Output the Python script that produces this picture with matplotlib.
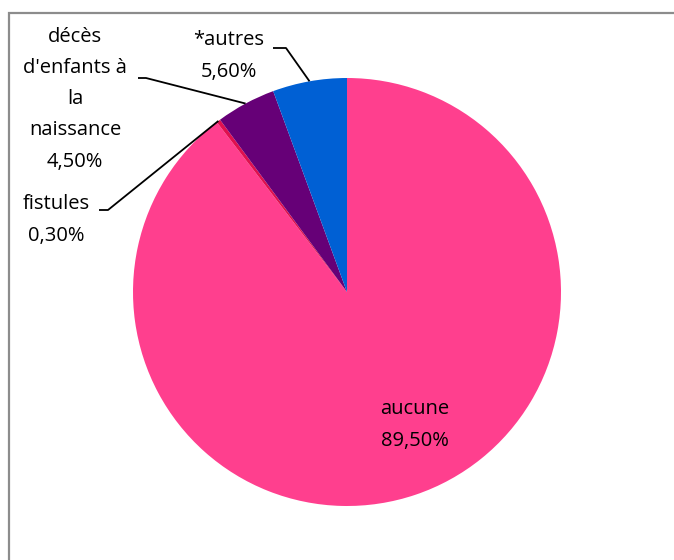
import numpy as np
import matplotlib.pyplot as plt
from matplotlib.patches import Rectangle

# data
categories = ['aucune', 'fistules', "décès\nd'enfants à\nla\nnaissance", '*autres']
values = [89.5, 0.3, 4.5, 5.6]
value_labels = ['89,50%', '0,30%', '4,50%', '5,60%']
colors = ['#FF3F8E', '#E0104F', '#660077', '#0060D4']

W, H = 674, 560
cx, cy, r = 347, 292, 214

plt.rcParams['font.family'] = ['Open Sans', 'DejaVu Sans']

fig = plt.figure(figsize=(W / 100, H / 100), dpi=100)
# chart frame (runs off the right and bottom of the image)
fig.patches.append(Rectangle((9 / W, -0.1), 1.2, 1 - 13 / H + 0.1,
                             transform=fig.transFigure, fill=False,
                             edgecolor='#8c8c8c', linewidth=1.6))

ax = fig.add_axes([(cx - r) / W, (H - cy - r) / H, 2 * r / W, 2 * r / H])
wedges, _ = ax.pie(values, colors=colors, startangle=90, counterclock=False,
                   radius=1.0, wedgeprops=dict(linewidth=0))
ax.set_xlim(-1, 1)
ax.set_ylim(-1, 1)
ax.set_aspect('equal')
ax.axis('off')


def px(x, y):
    # pixel position in the image -> data coords of the pie axes
    return (x - cx) / r, (cy - y) / r


fs = 14.5
ls = 1.75
# aucune label inside the slice
tx, ty = px(415, 425)
ax.text(tx, ty, categories[0] + '\n' + value_labels[0], ha='center', va='center',
        fontsize=fs, linespacing=ls)

# outside labels with leader lines: (text centre, line start, elbow)
layout = {
    1: ((56, 220), (99, 210), (108, 210)),
    2: ((75, 99), (138, 78), (146, 78)),
    3: ((229, 56), (273, 48), (286, 48)),
}
for i, (tpos, start, elbow) in layout.items():
    w = wedges[i]
    ang = np.deg2rad((w.theta1 + w.theta2) / 2)
    ex, ey = np.cos(ang), np.sin(ang)
    sx, sy = px(*start)
    bx, by = px(*elbow)
    ax.plot([sx, bx, ex], [sy, by, ey], color='black', linewidth=1.3,
            clip_on=False, solid_capstyle='butt')
    tx, ty = px(*tpos)
    ax.text(tx, ty, categories[i] + '\n' + value_labels[i], ha='center',
            va='center', fontsize=fs, linespacing=ls)

fig.savefig('out.png', dpi=100)
